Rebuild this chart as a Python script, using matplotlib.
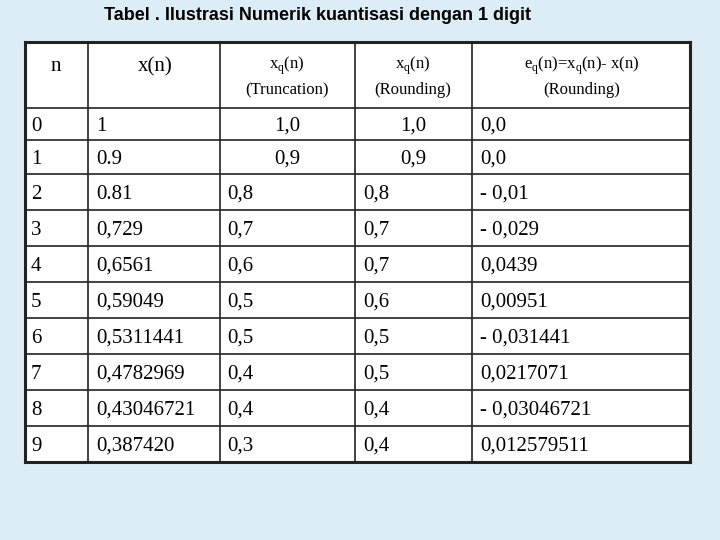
import matplotlib
matplotlib.use('Agg')
import matplotlib.pyplot as plt
from matplotlib.patches import Rectangle

title = 'Tabel . Ilustrasi Numerik kuantisasi dengan 1 digit'
n_vals = ['0', '1', '2', '3', '4', '5', '6', '7', '8', '9']
x_vals = ['1', '0.9', '0.81', '0,729', '0,6561', '0,59049', '0,5311441', '0,4782969', '0,43046721', '0,387420']
trunc = ['1,0', '0,9', '0,8', '0,7', '0,6', '0,5', '0,5', '0,4', '0,4', '0,3']
rnd = ['1,0', '0,9', '0,8', '0,7', '0,7', '0,6', '0,5', '0,5', '0,4', '0,4']
err = ['0,0', '0,0', '- 0,01', '- 0,029', '0,0439', '0,00951', '- 0,031441', '0,0217071', '- 0,03046721', '0,012579511']

serif = 'Liberation Serif'
plt.rcParams['mathtext.fontset'] = 'custom'
plt.rcParams['mathtext.rm'] = serif

fig = plt.figure(figsize=(7.2, 5.4), dpi=100)
fig.patch.set_facecolor('#dcedf5')
ax = fig.add_axes([0, 0, 1, 1])
ax.set_xlim(0, 720); ax.set_ylim(540, 0); ax.axis('off')

colx = [25, 88, 220, 355, 472, 690]
rowy = [42, 108, 140, 174, 210, 246, 282, 318, 354, 390, 426, 462]

ax.add_patch(Rectangle((colx[0], rowy[0]), colx[-1]-colx[0], rowy[-1]-rowy[0], fc='white', ec='none'))
for x in colx:
    ax.plot([x, x], [rowy[0], rowy[-1]], color='#222', lw=2.2 if x in (colx[0], colx[-1]) else 1.2)
for y in rowy:
    ax.plot([colx[0], colx[-1]], [y, y], color='#222', lw=2.2 if y in (rowy[0], rowy[-1]) else 1.2)

ax.text(318, 15, title, ha='center', va='center', fontsize=13, fontweight='bold', family='Liberation Sans')

kw = dict(va='center_baseline', family=serif)
ax.text(56, 64, 'n', ha='center', fontsize=15, **kw)
ax.text(155, 64, 'x(n)', ha='center', fontsize=15, **kw)
ax.text(287, 62, r'x$_\mathregular{q}$(n)', ha='center', fontsize=12, **kw)
ax.text(287, 88, '(Truncation)', ha='center', fontsize=12, **kw)
ax.text(413, 62, r'x$_\mathregular{q}$(n)', ha='center', fontsize=12, **kw)
ax.text(413, 88, '(Rounding)', ha='center', fontsize=12, **kw)
ax.text(582, 62, r'e$_\mathregular{q}$(n)=x$_\mathregular{q}$(n)- x(n)', ha='center', fontsize=12, **kw)
ax.text(582, 88, '(Rounding)', ha='center', fontsize=12, **kw)

for i in range(len(n_vals)):
    yc = (rowy[i+1] + rowy[i+2]) / 2
    ax.text(31, yc, n_vals[i], ha='left', fontsize=15, **kw)
    ax.text(96, yc, x_vals[i], ha='left', fontsize=15, **kw)
    ax.text(287 if i < 2 else 227, yc, trunc[i], ha='center' if i < 2 else 'left', fontsize=15, **kw)
    ax.text(413 if i < 2 else 363, yc, rnd[i], ha='center' if i < 2 else 'left', fontsize=15, **kw)
    ax.text(480, yc, err[i], ha='left', fontsize=15, **kw)

fig.savefig('out.png', dpi=100, facecolor=fig.get_facecolor())
